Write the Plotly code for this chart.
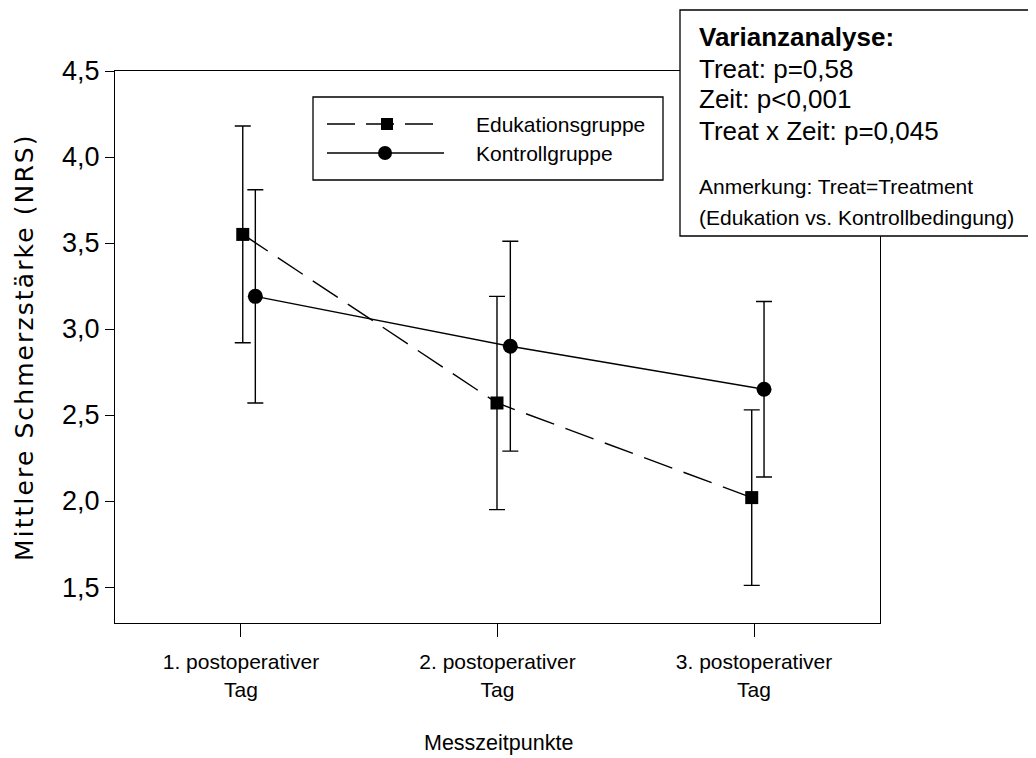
import plotly.graph_objects as go

# ---------------- data ----------------
time_points = [1, 2, 3]
time_labels = ["1. postoperativer<br>Tag", "2. postoperativer<br>Tag", "3. postoperativer<br>Tag"]

edu_name = "Edukationsgruppe"
edu_x = [1.007, 1.998, 2.991]
edu_mean = [3.55, 2.57, 2.02]
edu_err = [0.63, 0.62, 0.51]

kon_name = "Kontrollgruppe"
kon_x = [1.056, 2.050, 3.039]
kon_mean = [3.19, 2.90, 2.65]
kon_err = [0.62, 0.61, 0.51]

y_tick_vals = [1.5, 2.0, 2.5, 3.0, 3.5, 4.0, 4.5]
y_tick_labels = ["1,5", "2,0", "2,5", "3,0", "3,5", "4,0", "4,5"]

x_title = "Messzeitpunkte"
y_title = "Mittlere Schmerzstärke (NRS)"
stats_title = "Varianzanalyse:"
stats_lines = ["Treat: p=0,58", "Zeit: p<0,001", "Treat x Zeit: p=0,045"]
note_lines = ["Anmerkung: Treat=Treatment", "(Edukation vs. Kontrollbedingung)"]

# ---------------- layout geometry ----------------
# page body has an 8px default margin; figure is sized so it ends at the window edge
OFF = 8
W, H = 1028, 750
# plot-area edges in window pixels
PL, PR, PT, PB = 115, 880, 71, 623
FONT = "Liberation Sans, Arial, Helvetica, sans-serif"
WIDE = "DejaVu Sans, Liberation Sans, Arial, sans-serif"


def px(x):
    return (x - PL) / (PR - PL)


def py(y):
    return (PB - y) / (PB - PT)


fig = go.Figure()

fig.add_trace(go.Scatter(
    x=edu_x, y=edu_mean, name=edu_name, mode="lines+markers",
    line=dict(color="black", width=1.4, dash="30px,12px"),
    marker=dict(symbol="square", size=13, color="black"),
    error_y=dict(type="data", array=edu_err, visible=True, color="black", thickness=1.4, width=8),
    showlegend=False,
))
fig.add_trace(go.Scatter(
    x=kon_x, y=kon_mean, name=kon_name, mode="lines+markers",
    line=dict(color="black", width=1.4),
    marker=dict(symbol="circle", size=15, color="black"),
    error_y=dict(type="data", array=kon_err, visible=True, color="black", thickness=1.4, width=8),
    showlegend=False,
))

shapes = []
annotations = []

# legend box
shapes.append(dict(type="rect", xref="paper", yref="paper", x0=px(313), x1=px(663), y0=py(180), y1=py(97),
                   line=dict(color="black", width=1.3), fillcolor="white", layer="above"))
shapes.append(dict(type="line", xref="paper", yref="paper", x0=px(327), x1=px(434), y0=py(124), y1=py(124),
                   line=dict(color="black", width=1.4, dash="28px,11px"), layer="above"))
shapes.append(dict(type="rect", xref="paper", yref="paper", x0=px(381), x1=px(393), y0=py(130), y1=py(118),
                   line=dict(color="black", width=0), fillcolor="black", layer="above"))
shapes.append(dict(type="line", xref="paper", yref="paper", x0=px(327), x1=px(444), y0=py(153), y1=py(153),
                   line=dict(color="black", width=1.4), layer="above"))
shapes.append(dict(type="circle", xref="paper", yref="paper", x0=px(378), x1=px(392), y0=py(160), y1=py(146),
                   line=dict(color="black", width=0), fillcolor="black", layer="above"))
for name, yy in [(edu_name, 124), (kon_name, 153)]:
    annotations.append(dict(text=name, xref="paper", yref="paper", x=px(474), y=py(yy),
                            xanchor="left", yanchor="middle", showarrow=False,
                            font=dict(family=FONT, size=21, color="black")))

# statistics box
shapes.append(dict(type="rect", xref="paper", yref="paper", x0=px(680), x1=px(1035), y0=py(236), y1=py(10),
                   line=dict(color="black", width=1.3), fillcolor="white", layer="above"))
annotations.append(dict(text="<b>" + stats_title + "</b>", xref="paper", yref="paper", x=px(697), y=py(37),
                        xanchor="left", yanchor="middle", showarrow=False,
                        font=dict(family=FONT, size=26, color="black")))
for line, yy in zip(stats_lines, [69, 99, 131]):
    annotations.append(dict(text=line, xref="paper", yref="paper", x=px(697), y=py(yy),
                            xanchor="left", yanchor="middle", showarrow=False,
                            font=dict(family=FONT, size=26, color="black")))
for line, yy in zip(note_lines, [186, 218]):
    annotations.append(dict(text=line, xref="paper", yref="paper", x=px(697), y=py(yy),
                            xanchor="left", yanchor="middle", showarrow=False,
                            font=dict(family=FONT, size=21, color="black")))

# axis titles
annotations.append(dict(text=x_title, xref="paper", yref="paper", x=px(498), y=py(743),
                        xanchor="center", yanchor="middle", showarrow=False,
                        font=dict(family=FONT, size=21.5, color="black")))
annotations.append(dict(text='<span style="letter-spacing:2.1px">' + y_title + '</span>',
                        xref="paper", yref="paper", x=px(24), y=py(347),
                        xanchor="center", yanchor="middle", showarrow=False, textangle=-90,
                        font=dict(family=WIDE, size=25, color="black")))

fig.update_layout(
    width=W, height=H,
    margin=dict(l=PL - OFF, r=W - (PR - OFF), t=PT - OFF, b=H - (PB - OFF), autoexpand=False),
    paper_bgcolor="white", plot_bgcolor="white",
    showlegend=False,
    shapes=shapes, annotations=annotations,
)
fig.update_xaxes(
    range=[0.509, 3.491], tickvals=time_points, ticktext=time_labels,
    showline=True, mirror=True, linecolor="black", linewidth=1.3,
    ticks="outside", ticklen=13, tickwidth=1.3, tickcolor="black",
    ticklabelstandoff=7,
    showgrid=False, zeroline=False,
    tickfont=dict(family=FONT, size=21, color="black"),
)
fig.update_yaxes(
    range=[1.291, 4.5], tickvals=y_tick_vals, ticktext=y_tick_labels,
    showline=True, mirror=True, linecolor="black", linewidth=1.3,
    ticks="outside", ticklen=9, tickwidth=1.3, tickcolor="black",
    showgrid=False, zeroline=False,
    tickfont=dict(family=FONT, size=27, color="black"),
)

fig.write_html("out.html")
